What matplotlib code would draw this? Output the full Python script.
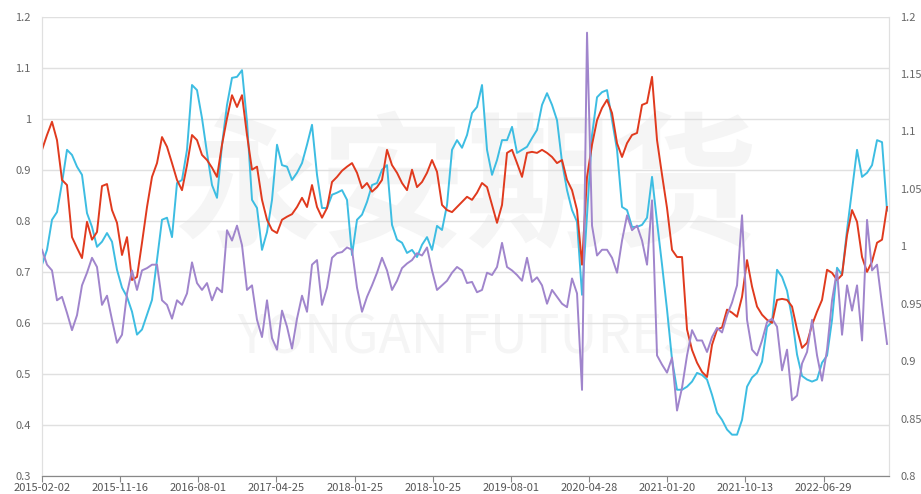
import numpy as np
import matplotlib
matplotlib.use("Agg")
import matplotlib.pyplot as plt
from matplotlib.ticker import FuncFormatter

plt.rcParams['font.family'] = ['Noto Sans CJK SC', 'DejaVu Sans']

# tick dates on the category axis
tick_dates = ['2015-02-02', '2015-11-16', '2016-08-01', '2017-04-25', '2018-01-25',
              '2018-10-25', '2019-08-01', '2020-04-28', '2021-01-20', '2021-10-13',
              '2022-06-29']

# red series (left axis)
red = [0.939, 0.968, 0.994, 0.958, 0.880, 0.870, 0.768, 0.747, 0.727, 0.798,
       0.763, 0.778, 0.868, 0.872, 0.821, 0.796, 0.733, 0.768, 0.684, 0.690,
       0.757, 0.827, 0.886, 0.913, 0.964, 0.945, 0.913, 0.880, 0.860, 0.909,
       0.968, 0.958, 0.929, 0.919, 0.904, 0.886, 0.949, 1.001, 1.046, 1.023,
       1.046, 0.968, 0.900, 0.906, 0.841, 0.802, 0.782, 0.776, 0.802, 0.808,
       0.813, 0.827, 0.845, 0.827, 0.870, 0.827, 0.806, 0.825, 0.876, 0.886,
       0.898, 0.906, 0.913, 0.894, 0.864, 0.874, 0.857, 0.866, 0.880, 0.939,
       0.909, 0.894, 0.874, 0.860, 0.900, 0.866, 0.876, 0.894, 0.919, 0.896,
       0.831, 0.821, 0.817, 0.827, 0.837, 0.847, 0.841, 0.855, 0.874, 0.866,
       0.831, 0.796, 0.831, 0.933, 0.939, 0.913, 0.886, 0.933, 0.935, 0.933,
       0.939, 0.933, 0.925, 0.913, 0.919, 0.880, 0.860, 0.821, 0.714, 0.886,
       0.949, 0.997, 1.021, 1.037, 1.011, 0.952, 0.925, 0.952, 0.968, 0.972,
       1.027, 1.031, 1.082, 0.958, 0.890, 0.825, 0.743, 0.729, 0.729, 0.587,
       0.547, 0.522, 0.504, 0.494, 0.557, 0.587, 0.591, 0.626, 0.620, 0.612,
       0.651, 0.723, 0.671, 0.632, 0.616, 0.606, 0.600, 0.645, 0.647, 0.645,
       0.632, 0.587, 0.551, 0.561, 0.596, 0.622, 0.645, 0.704, 0.698, 0.684,
       0.694, 0.772, 0.821, 0.798, 0.729, 0.700, 0.720, 0.757, 0.763, 0.827]

# cyan series (left axis)
cyan = [0.714, 0.743, 0.802, 0.817, 0.874, 0.939, 0.929, 0.906, 0.890, 0.815,
        0.788, 0.749, 0.759, 0.776, 0.759, 0.704, 0.669, 0.651, 0.622, 0.577,
        0.587, 0.616, 0.645, 0.723, 0.802, 0.806, 0.768, 0.874, 0.880, 0.939,
        1.066, 1.056, 1.001, 0.933, 0.870, 0.845, 0.949, 1.027, 1.080, 1.082,
        1.095, 0.994, 0.841, 0.825, 0.743, 0.778, 0.841, 0.949, 0.909, 0.906,
        0.880, 0.894, 0.913, 0.949, 0.988, 0.890, 0.825, 0.825, 0.851, 0.855,
        0.860, 0.841, 0.733, 0.802, 0.812, 0.837, 0.870, 0.874, 0.900, 0.909,
        0.792, 0.763, 0.757, 0.737, 0.743, 0.729, 0.753, 0.768, 0.743, 0.790,
        0.782, 0.831, 0.939, 0.958, 0.943, 0.968, 1.011, 1.023, 1.066, 0.939,
        0.890, 0.919, 0.958, 0.958, 0.984, 0.933, 0.939, 0.945, 0.962, 0.978,
        1.027, 1.050, 1.027, 0.997, 0.915, 0.860, 0.821, 0.798, 0.655, 0.812,
        0.968, 1.042, 1.052, 1.056, 0.997, 0.939, 0.827, 0.821, 0.788, 0.788,
        0.792, 0.806, 0.886, 0.798, 0.714, 0.626, 0.528, 0.469, 0.469, 0.475,
        0.485, 0.502, 0.498, 0.489, 0.459, 0.424, 0.410, 0.391, 0.381, 0.381,
        0.410, 0.475, 0.493, 0.502, 0.524, 0.592, 0.602, 0.704, 0.690, 0.663,
        0.610, 0.538, 0.496, 0.489, 0.485, 0.489, 0.522, 0.536, 0.606, 0.708,
        0.694, 0.782, 0.860, 0.939, 0.886, 0.894, 0.909, 0.958, 0.954, 0.820]

# purple series (right axis)
purple = [0.997, 0.984, 0.979, 0.953, 0.956, 0.942, 0.927, 0.940, 0.966, 0.977,
          0.990, 0.982, 0.949, 0.957, 0.936, 0.916, 0.923, 0.959, 0.979, 0.962,
          0.979, 0.981, 0.984, 0.984, 0.953, 0.949, 0.937, 0.953, 0.949, 0.959,
          0.986, 0.968, 0.962, 0.968, 0.953, 0.964, 0.960, 1.014, 1.005, 1.018,
          1.001, 0.962, 0.966, 0.936, 0.921, 0.953, 0.920, 0.910, 0.944, 0.930,
          0.911, 0.937, 0.957, 0.943, 0.984, 0.988, 0.949, 0.964, 0.990, 0.994,
          0.995, 0.999, 0.997, 0.964, 0.943, 0.956, 0.966, 0.977, 0.990, 0.979,
          0.962, 0.970, 0.981, 0.985, 0.988, 0.994, 0.992, 0.999, 0.979, 0.962,
          0.966, 0.970, 0.977, 0.982, 0.979, 0.968, 0.969, 0.960, 0.962, 0.977,
          0.975, 0.982, 1.003, 0.982, 0.979, 0.975, 0.970, 0.990, 0.969, 0.973,
          0.966, 0.950, 0.962, 0.956, 0.950, 0.947, 0.972, 0.959, 0.875, 1.186,
          1.018, 0.992, 0.997, 0.997, 0.990, 0.977, 1.005, 1.027, 1.014, 1.018,
          1.005, 0.984, 1.040, 0.905, 0.897, 0.890, 0.903, 0.857, 0.877, 0.905,
          0.927, 0.918, 0.918, 0.908, 0.921, 0.929, 0.925, 0.940, 0.951, 0.966,
          1.027, 0.936, 0.910, 0.905, 0.918, 0.934, 0.937, 0.930, 0.892, 0.910,
          0.866, 0.870, 0.898, 0.908, 0.936, 0.905, 0.883, 0.910, 0.953, 0.979,
          0.923, 0.966, 0.944, 0.966, 0.918, 1.023, 0.979, 0.984, 0.949, 0.915]

n = len(red)
x = np.arange(n)

fig = plt.figure(figsize=(9.21, 4.94), dpi=100)
ax = fig.add_axes([0.0456, 0.0364, 0.9197, 0.930])
ax2 = ax.twinx()

# faint watermark
ax.text(0.5, 0.62, '永安期货', transform=ax.transAxes, ha='center', va='center',
        fontsize=105, color='#f5f5f5', fontweight='bold', zorder=0)
ax.text(0.5, 0.30, 'YONGAN FUTURES', transform=ax.transAxes, ha='center', va='center',
        fontsize=38, color='#f5f5f5', zorder=0)

ax.plot(x, cyan, color='#3dbde2', lw=1.4, zorder=3)
ax.plot(x, red, color='#e03a1e', lw=1.4, zorder=4)
ax2.plot(x, purple, color='#a085cc', lw=1.4, zorder=3)

ax.set_xlim(0, n - 1 + 0.4)
ax.set_ylim(0.3, 1.2)
ax.set_yticks(np.arange(0.3, 1.21, 0.1))
ax.yaxis.set_major_formatter(FuncFormatter(lambda v, p: '%g' % round(v, 2)))
ax2.set_ylim(0.8, 1.2)
ax2.set_yticks(np.arange(0.8, 1.201, 0.05))
ax2.yaxis.set_major_formatter(FuncFormatter(lambda v, p: '%g' % round(v, 2)))

tick_pos = np.arange(len(tick_dates)) * 15.63
ax.set_xticks(tick_pos)
ax.set_xticklabels(tick_dates)

ax.grid(axis='y', color='#e0e0e0', lw=1)
ax.set_axisbelow(True)

for a in (ax, ax2):
    a.spines['top'].set_visible(False)
    a.spines['left'].set_color('#e0e0e0')
    a.spines['right'].set_color('#e0e0e0')
    a.spines['bottom'].set_color('#888888')
    a.tick_params(axis='y', length=0, labelsize=8, labelcolor='#666666', pad=8)
ax.tick_params(axis='x', length=4, color='#888888', labelsize=8, labelcolor='#555555', pad=1)

fig.savefig('out.png', dpi=100)
